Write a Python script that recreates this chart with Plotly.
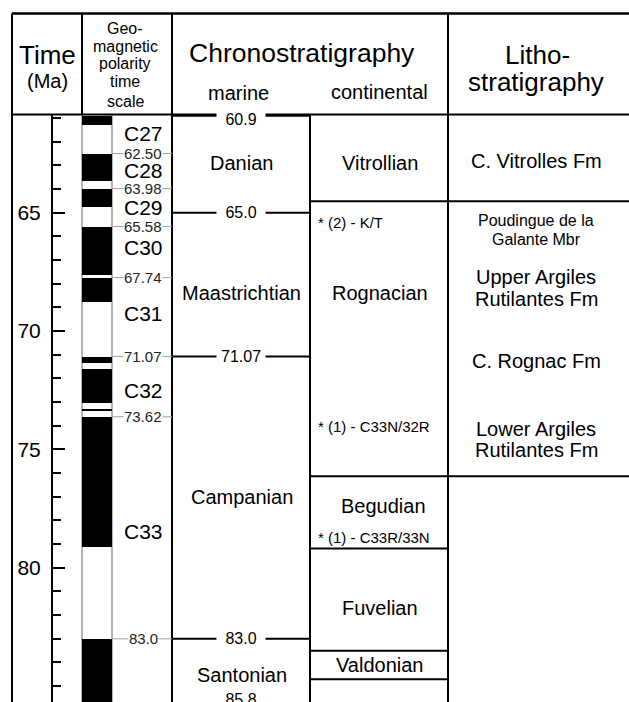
import plotly.graph_objects as go

# ---------------- data ----------------
# Geomagnetic polarity time scale: normal polarity (black) intervals, Ma
normal_start = [60.90, 62.50, 63.98, 65.58, 67.74, 71.07, 71.59, 73.29, 73.62, 83.00]
normal_end = [61.28, 63.63, 64.75, 67.61, 68.74, 71.34, 73.00, 73.37, 79.12, 85.80]
chron_names = ["C27", "C28", "C29", "C30", "C31", "C32", "C33"]
chron_label_ma = [61.65, 63.21, 64.79, 66.45, 69.25, 72.50, 78.48]
gpts_ages = [62.50, 63.98, 65.58, 67.74, 71.07, 73.62, 83.0]
gpts_age_labels = ["62.50", "63.98", "65.58", "67.74", "71.07", "73.62", "83.0"]

# Marine chronostratigraphy
marine_bounds = [60.9, 65.0, 71.07, 83.0, 85.8]
marine_bound_labels = ["60.9", "65.0", "71.07", "83.0", "85.8"]
marine_stages = ["Danian", "Maastrichtian", "Campanian", "Santonian"]
marine_stage_label_ma = [62.88, 68.41, 77.02, 84.54]

# Continental chronostratigraphy
cont_bounds = [64.51, 76.13, 79.18, 83.50, 84.71]
cont_stages = ["Vitrollian", "Rognacian", "Begudian", "Fuvelian", "Valdonian"]
cont_stage_label_ma = [62.88, 68.41, 77.40, 81.70, 84.11]
cont_notes = ["* (2) - K/T", "* (1) - C33N/32R", "* (1) - C33R/33N"]
cont_note_ma = [65.40, 74.05, 78.72]

# Lithostratigraphy
litho_bounds = [64.51, 76.13]
litho_lines = ["C. Vitrolles Fm", "Poudingue de la", "Galante Mbr", "Upper Argiles",
               "Rutilantes Fm", "C. Rognac Fm", "Lower Argiles", "Rutilantes Fm"]
litho_line_ma = [62.83, 65.32, 66.13, 67.72, 68.63, 71.26, 74.12, 75.03]
litho_small = [False, True, True, False, False, False, False, False]

# Time axis
time_ticks = [65, 70, 75, 80]

# ---------------- layout constants ----------------
W, H = 629, 702
FONT = "Liberation Sans, Arial, Helvetica, sans-serif"
HDR_TOP, HDR_BOT = 13.5, 114.5
TOP_MA, BOTTOM_MA = 60.85, 85.67
X_LEFT, X_AXIS, X_GP0, X_GP1 = 12, 52, 82, 112
X_MAR, X_CON, X_LIT, X_RIGHT = 172, 310, 448, 629


def py(p):  # pixel row -> paper y
    return 1 - p / H


fig = go.Figure()

# polarity column background (reversed intervals, white with grey outline)
shapes = [dict(type="rect", xref="x", yref="y", x0=X_GP0, x1=X_GP1, y0=TOP_MA, y1=85.8,
               fillcolor="white", line=dict(color="#9a9a9a", width=1.5), layer="below")]

fig.add_trace(go.Bar(
    x=[(X_GP0 + X_GP1) / 2] * len(normal_start),
    base=normal_start,
    y=[e - s for s, e in zip(normal_start, normal_end)],
    width=X_GP1 - X_GP0,
    marker=dict(color="black", line=dict(width=0)),
    hoverinfo="skip",
))

BL = dict(color="black", width=2)
# frame + header lines (paper coords for y)
shapes += [
    dict(type="line", xref="x", yref="paper", x0=X_LEFT, x1=X_RIGHT, y0=py(HDR_TOP), y1=py(HDR_TOP),
         line=dict(color="black", width=2.5)),
    dict(type="line", xref="x", yref="paper", x0=X_LEFT, x1=X_RIGHT, y0=py(HDR_BOT), y1=py(HDR_BOT), line=BL),
    dict(type="line", xref="x", yref="paper", x0=X_LEFT, x1=X_LEFT, y0=py(HDR_TOP), y1=0, line=BL),
    dict(type="line", xref="x", yref="paper", x0=X_GP0, x1=X_GP0, y0=py(HDR_TOP), y1=py(HDR_BOT), line=BL),
    dict(type="line", xref="x", yref="paper", x0=X_MAR, x1=X_MAR, y0=py(HDR_TOP), y1=0, line=BL),
    dict(type="line", xref="x", yref="paper", x0=X_LIT, x1=X_LIT, y0=py(HDR_TOP), y1=0, line=BL),
    dict(type="line", xref="x", yref="paper", x0=X_CON, x1=X_CON, y0=py(HDR_BOT), y1=0, line=BL),
]

# grey GPTS age ticks
for a in gpts_ages:
    shapes.append(dict(type="line", xref="x", yref="y", x0=X_GP1, x1=X_MAR, y0=a, y1=a,
                       line=dict(color="#a0a0a0", width=1)))
# marine boundaries
for b in marine_bounds:
    shapes.append(dict(type="line", xref="x", yref="y", x0=X_MAR, x1=X_CON, y0=b, y1=b, line=BL))
# continental boundaries
for b in cont_bounds:
    x1 = X_RIGHT if b in litho_bounds else X_LIT
    shapes.append(dict(type="line", xref="x", yref="y", x0=X_CON, x1=x1, y0=b, y1=b, line=BL))

ann = []


def A(x, y, text, size, xref="x", yref="y", xanchor="center", color="black", **kw):
    d = dict(x=x, y=y, xref=xref, yref=yref, text=text, showarrow=False, xanchor=xanchor,
             yanchor="middle", font=dict(family=FONT, size=size, color=color))
    d.update(kw)
    ann.append(d)


# header
A(47, py(55), "Time", 26, yref="paper")
A(47, py(81), "(Ma)", 20, yref="paper")
for t, p in zip(["Geo-", "magnetic", "polarity", "time", "scale"], [28, 46, 63.5, 82, 101]):
    A(125, py(p), t, 16, yref="paper")
A(302, py(53), "Chronostratigraphy", 26.5, yref="paper")
A(238, py(93), "marine", 20, yref="paper")
A(379, py(92), "continental", 20, yref="paper")
A(537, py(55), "Litho-", 26, yref="paper")
A(536, py(82), "stratigraphy", 26, yref="paper")

# GPTS labels: ages first, chron names on top
for a, t in zip(gpts_ages, gpts_age_labels):
    A(143, a, t, 15, color="#222", bgcolor="white", borderpad=0)
for n, m in zip(chron_names, chron_label_ma):
    A(143, m, n, 21)

# marine boundary ages (the last one lies just below the visible frame)
for b, t in zip(marine_bounds, marine_bound_labels):
    pad_t = t if len(t) > 4 else "\u00a0" + t + "\u00a0"
    if b == marine_bounds[0]:
        A(241, b, pad_t, 16, bgcolor="white", borderpad=4, yshift=-4)
    elif b > BOTTOM_MA:
        A(241, BOTTOM_MA, pad_t, 16, bgcolor="white", borderpad=4, yshift=3)
    else:
        A(241, b, pad_t, 16, bgcolor="white", borderpad=4)
for s, m in zip(marine_stages, marine_stage_label_ma):
    A(241.5, m, s, 20)

# continental
for s, m in zip(cont_stages, cont_stage_label_ma):
    A(383 if s == "Begudian" else 379.5, m, s, 20)
for s, m in zip(cont_notes, cont_note_ma):
    A(316, m, s, 15, xanchor="left")

# litho
for s, m, small in zip(litho_lines, litho_line_ma, litho_small):
    A(536, m, s, 16 if small else 20)

fig.update_layout(
    width=W, height=H, margin=dict(l=0, r=0, t=0, b=0),
    paper_bgcolor="white", plot_bgcolor="white", showlegend=False,
    shapes=shapes, annotations=ann,
    xaxis=dict(range=[0, W], domain=[0, 1], visible=False, fixedrange=True),
    yaxis=dict(domain=[0, (H - HDR_BOT) / H], range=[BOTTOM_MA, TOP_MA], anchor="free",
               position=X_AXIS / W, side="left", showline=True, linecolor="black", linewidth=2,
               ticks="inside", ticklen=12, tickwidth=2, tickcolor="black",
               tickvals=time_ticks, ticktext=[str(t) for t in time_ticks],
               tickfont=dict(family=FONT, size=21, color="black"), ticklabelstandoff=6,
               minor=dict(dtick=1, tick0=60, ticks="inside", ticklen=8, tickwidth=2, tickcolor="black"),
               showgrid=False, zeroline=False, fixedrange=True),
    bargap=0,
)

fig.write_html("out.html", config={"displayModeBar": False},
               post_script="document.body.style.margin='0px';document.body.style.overflow='hidden';")
